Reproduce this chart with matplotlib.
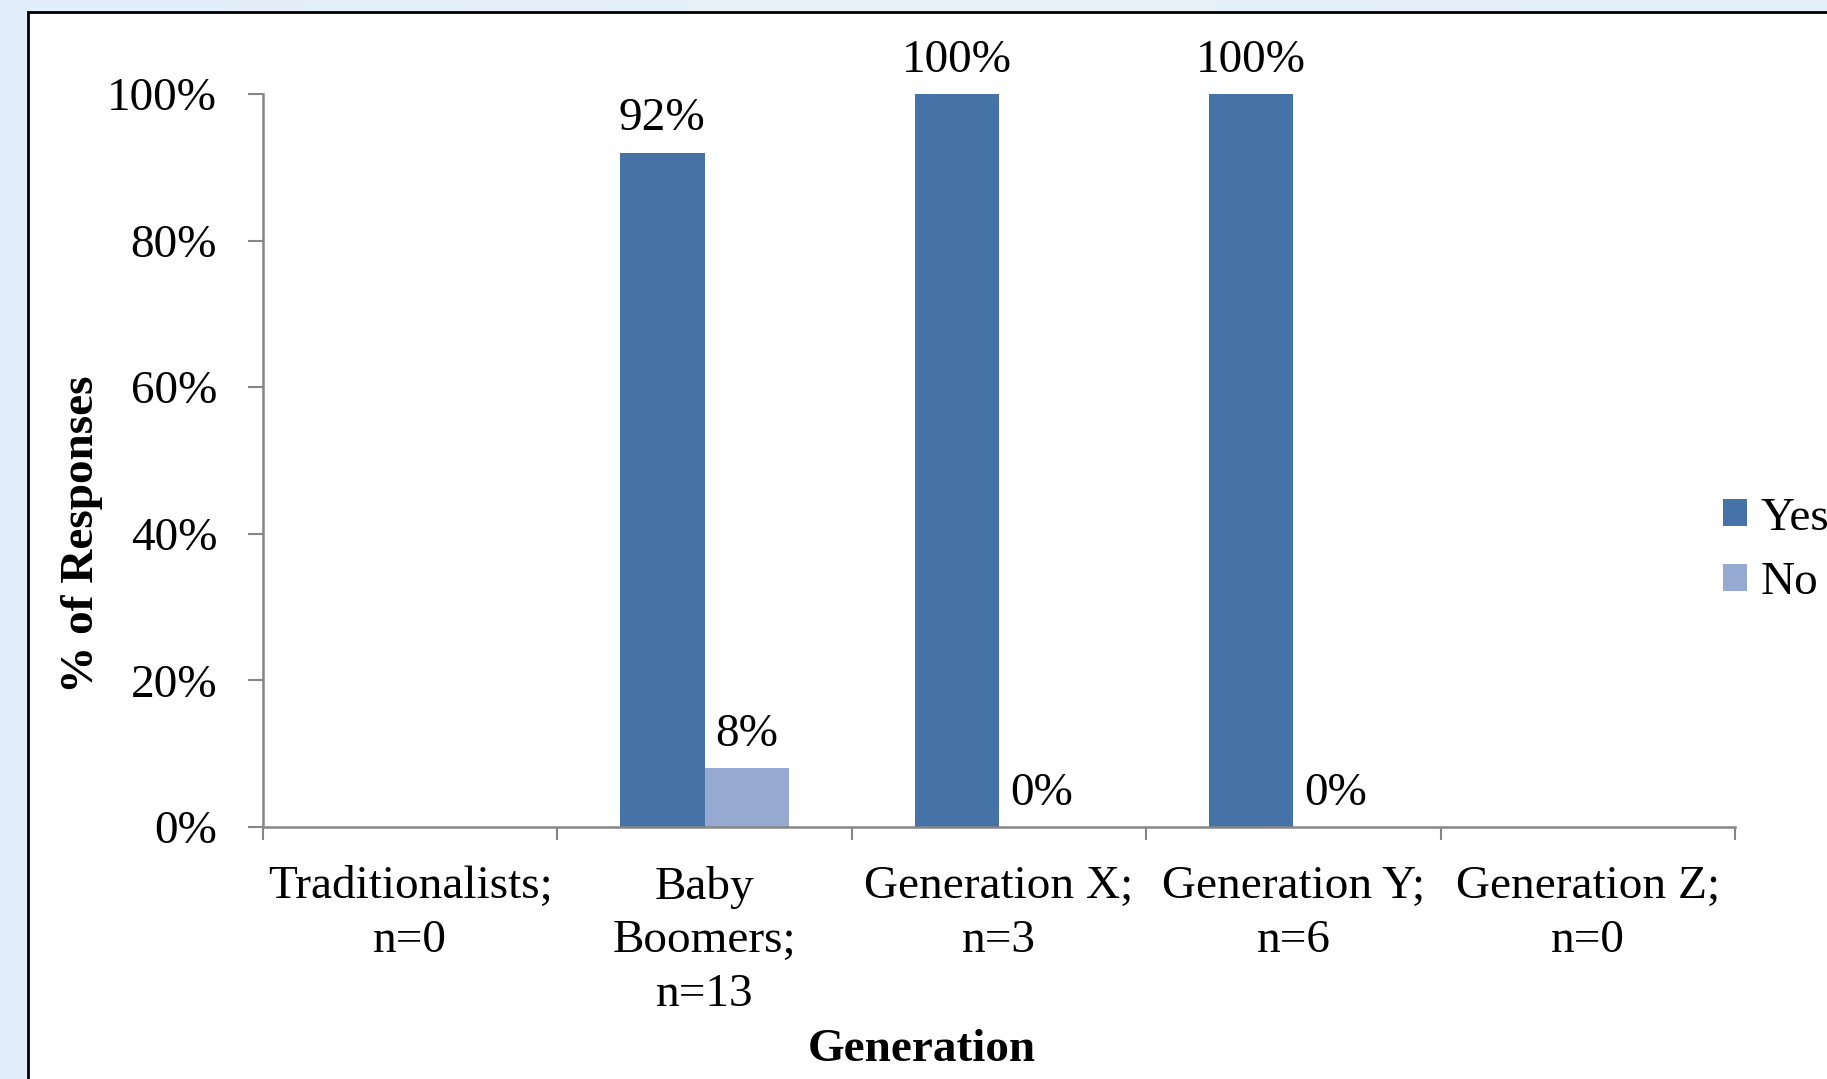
import numpy as np
import matplotlib
matplotlib.use("Agg")
import matplotlib.pyplot as plt
from matplotlib.patches import Rectangle
from matplotlib.colors import LinearSegmentedColormap

# Survey responses by generation (percent); NaN = no respondents
categories = ["Traditionalists;\nn=0", "Baby\nBoomers;\nn=13", "Generation X;\nn=3",
              "Generation Y;\nn=6", "Generation Z;\nn=0"]
yes_pct = [np.nan, 92, 100, 100, np.nan]
no_pct = [np.nan, 8, 0, 0, np.nan]
y_ticks = [0, 20, 40, 60, 80, 100]
series_names = ["Yes", "No"]

YES_COLOR = "#4572A7"
NO_COLOR = "#95A9D1"
AXIS_GRAY = "#868686"
FS = 34

plt.rcParams["font.family"] = ["Liberation Serif", "DejaVu Serif"]

W, H = 1827, 1079
fig = plt.figure(figsize=(W / 100, H / 100), dpi=100)

# light blue page background with a soft gradient
bg = fig.add_axes([0, 0, 1, 1], zorder=-10)
grad = np.linspace(0, 1, 256).reshape(1, -1)
cmap = LinearSegmentedColormap.from_list("bg", ["#E2EEF9", "#E6F1FA", "#E3EFF9"])
bg.imshow(grad, aspect="auto", cmap=cmap, extent=[0, 1, 0, 1])
bg.set_xlim(0, 1)
bg.set_ylim(0, 1)
bg.axis("off")

# white chart area with black frame, running off the right and bottom edges
fig.patches.append(Rectangle((28 / W, -0.05), 1.05, (H - 12) / H + 0.05,
                             transform=fig.transFigure, facecolor="white",
                             edgecolor="black", linewidth=2.0, zorder=-5))

left, right, top, bottom = 263, 1735, 94, 827
ax = fig.add_axes([left / W, (H - bottom) / H, (right - left) / W, (bottom - top) / H])
ax.set_facecolor("none")

x = np.arange(len(categories))
w = 0.287
yes_vals = np.array(yes_pct, dtype=float)
no_vals = np.array(no_pct, dtype=float)
ax.bar(x - w / 2, np.nan_to_num(yes_vals), w, color=YES_COLOR, label=series_names[0])
ax.bar(x + w / 2, np.nan_to_num(no_vals), w, color=NO_COLOR, label=series_names[1])

for xs, vals in ((x - w / 2, yes_vals), (x + w / 2, no_vals)):
    for xi, v in zip(xs, vals):
        if np.isnan(v):
            continue
        ax.annotate(f"{v:.0f}%", (xi, v), xytext=(0, 16), textcoords="offset points",
                    ha="center", va="baseline", fontsize=FS, clip_on=False,
                    annotation_clip=False)

ax.set_xlim(-0.5, len(categories) - 0.5)
ax.set_ylim(0, 100)
ax.set_yticks(y_ticks)
ax.set_yticklabels([f"{t}%" for t in y_ticks], fontsize=FS)
ax.set_xticks(np.arange(len(categories) + 1) - 0.5, minor=False)
ax.set_xticklabels([])
ax.set_xticks(x, minor=True)
ax.set_xticklabels(categories, minor=True, fontsize=FS, linespacing=1.34)
ax.tick_params(axis="x", which="minor", length=0, pad=28)
ax.tick_params(axis="x", which="major", length=9, width=1.5, color=AXIS_GRAY, direction="out")
ax.tick_params(axis="y", length=11, width=1.5, color=AXIS_GRAY, direction="out", pad=22)

for s in ("top", "right"):
    ax.spines[s].set_visible(False)
for s in ("left", "bottom"):
    ax.spines[s].set_color(AXIS_GRAY)
    ax.spines[s].set_linewidth(1.8)

fig.text(82 / W, 1 - 534 / H, "% of Responses", rotation=90, ha="center", va="center",
         fontsize=FS, fontweight="bold")
fig.text(922 / W, 1 - 1050 / H, "Generation", ha="center", va="center",
         fontsize=FS, fontweight="bold")

ax.legend(loc="upper left", bbox_to_anchor=(1723 / W, 1 - 497 / H),
          bbox_transform=fig.transFigure, frameon=False, fontsize=FS,
          handlelength=0.5, handleheight=0.5, handletextpad=0.3,
          labelspacing=0.47, borderpad=0, borderaxespad=0)

fig.savefig("out.png", dpi=100)
